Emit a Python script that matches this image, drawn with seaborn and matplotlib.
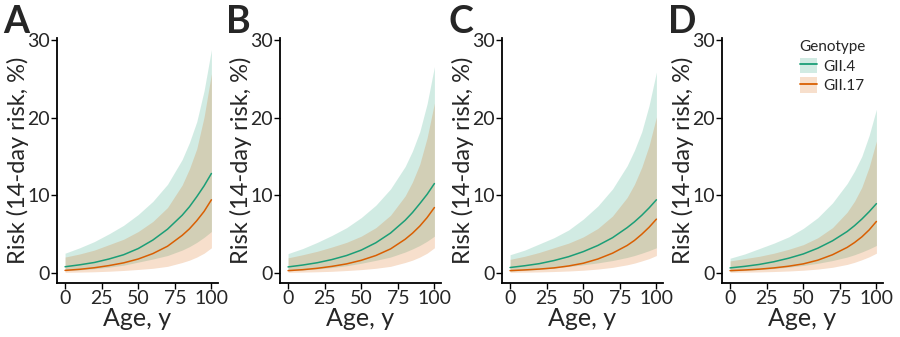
import pandas as pd
import seaborn as sns
import matplotlib.pyplot as plt
from matplotlib.patches import Patch
from matplotlib.lines import Line2D

ages = [0, 10, 20, 30, 40, 50, 60, 70, 80, 85, 90, 95, 100]
panels = ["A", "B", "C", "D"]
genotypes = ["GII.4", "GII.17"]

# panel A
a_gii4_mid = [0.75, 1.0, 1.3, 1.75, 2.3, 3.1, 4.2, 5.6, 7.4, 8.5, 9.8, 11.2, 12.8]
a_gii4_low = [0.22, 0.35, 0.5, 0.7, 0.95, 1.35, 1.75, 2.2, 2.9, 3.35, 3.9, 4.55, 5.3]
a_gii4_high = [2.5, 3.2, 4.0, 5.0, 6.1, 7.5, 9.2, 11.4, 14.6, 16.8, 19.5, 23.5, 28.8]
a_gii17_mid = [0.28, 0.42, 0.62, 0.9, 1.25, 1.75, 2.45, 3.4, 4.8, 5.65, 6.7, 7.9, 9.4]
a_gii17_low = [0.03, 0.06, 0.1, 0.17, 0.27, 0.4, 0.55, 0.8, 1.3, 1.6, 2.0, 2.5, 3.2]
a_gii17_high = [2.0, 2.4, 2.9, 3.6, 4.3, 5.3, 6.6, 8.4, 11.3, 13.4, 16.0, 20.1, 25.7]

# panel B
b_gii4_mid = [0.73, 0.97, 1.27, 1.68, 2.2, 2.9, 3.85, 5.1, 6.75, 7.75, 8.9, 10.1, 11.5]
b_gii4_low = [0.22, 0.33, 0.47, 0.65, 0.88, 1.2, 1.58, 2.0, 2.65, 3.05, 3.5, 4.05, 4.7]
b_gii4_high = [2.45, 3.1, 3.9, 4.8, 5.8, 7.1, 8.7, 10.8, 13.7, 15.7, 18.2, 21.8, 26.6]
b_gii17_mid = [0.25, 0.37, 0.55, 0.8, 1.12, 1.58, 2.2, 3.05, 4.3, 5.08, 6.0, 7.1, 8.4]
b_gii17_low = [0.03, 0.06, 0.1, 0.16, 0.26, 0.38, 0.55, 0.8, 1.3, 1.6, 2.0, 2.5, 3.2]
b_gii17_high = [1.9, 2.3, 2.75, 3.3, 3.9, 4.7, 5.8, 7.4, 9.9, 11.7, 14.0, 17.4, 21.9]

# panel C
c_gii4_mid = [0.65, 0.88, 1.15, 1.55, 2.05, 2.7, 3.5, 4.5, 5.8, 6.55, 7.4, 8.35, 9.4]
c_gii4_low = [0.18, 0.28, 0.4, 0.57, 0.78, 1.0, 1.25, 1.55, 1.95, 2.2, 2.5, 2.83, 3.2]
c_gii4_high = [2.3, 2.9, 3.7, 4.5, 5.5, 6.9, 8.6, 10.8, 13.8, 15.8, 18.2, 21.6, 25.9]
c_gii17_mid = [0.25, 0.34, 0.45, 0.6, 0.85, 1.2, 1.75, 2.5, 3.5, 4.15, 4.95, 5.85, 6.9]
c_gii17_low = [0.03, 0.05, 0.08, 0.13, 0.2, 0.3, 0.45, 0.67, 1.0, 1.22, 1.5, 1.8, 2.2]
c_gii17_high = [1.7, 2.1, 2.6, 3.2, 3.8, 4.6, 5.7, 7.3, 9.7, 11.4, 13.6, 16.4, 20.1]

# panel D
d_gii4_mid = [0.6, 0.8, 1.05, 1.4, 1.85, 2.4, 3.15, 4.1, 5.3, 6.05, 6.9, 7.85, 8.9]
d_gii4_low = [0.18, 0.27, 0.38, 0.52, 0.7, 0.92, 1.2, 1.55, 2.0, 2.3, 2.65, 3.05, 3.5]
d_gii4_high = [1.85, 2.4, 3.1, 3.8, 4.6, 5.7, 7.1, 9.0, 11.5, 13.1, 15.0, 17.7, 21.1]
d_gii17_mid = [0.25, 0.33, 0.44, 0.6, 0.82, 1.12, 1.6, 2.3, 3.25, 3.87, 4.6, 5.5, 6.6]
d_gii17_low = [0.03, 0.05, 0.08, 0.13, 0.2, 0.3, 0.45, 0.68, 1.05, 1.32, 1.65, 2.03, 2.5]
d_gii17_high = [1.5, 1.8, 2.1, 2.5, 3.0, 3.6, 4.5, 5.8, 7.8, 9.2, 11.0, 13.6, 17.0]

series = {
    ("A", "GII.4"): (a_gii4_mid, a_gii4_low, a_gii4_high),
    ("A", "GII.17"): (a_gii17_mid, a_gii17_low, a_gii17_high),
    ("B", "GII.4"): (b_gii4_mid, b_gii4_low, b_gii4_high),
    ("B", "GII.17"): (b_gii17_mid, b_gii17_low, b_gii17_high),
    ("C", "GII.4"): (c_gii4_mid, c_gii4_low, c_gii4_high),
    ("C", "GII.17"): (c_gii17_mid, c_gii17_low, c_gii17_high),
    ("D", "GII.4"): (d_gii4_mid, d_gii4_low, d_gii4_high),
    ("D", "GII.17"): (d_gii17_mid, d_gii17_low, d_gii17_high),
}

rows = []
for (p, g), (mid, low, high) in series.items():
    for i, a in enumerate(ages):
        rows.append({"panel": p, "genotype": g, "age": a,
                     "risk": mid[i], "low": low[i], "high": high[i]})
df = pd.DataFrame(rows)

sns.set_style("white")
plt.rcParams["font.family"] = ["Lato", "DejaVu Sans"]

colors = {"GII.4": "#1b9e77", "GII.17": "#d95f02"}

fig = plt.figure(figsize=(9, 3.37), dpi=100)
lefts = [57, 280, 502, 722]

for p, left in zip(panels, lefts):
    ax = fig.add_axes([left / 900, 54 / 337, 161 / 900, 245 / 337])
    sub = df[df["panel"] == p]
    for g in genotypes:
        s = sub[sub["genotype"] == g]
        ax.fill_between(s["age"], s["low"], s["high"], color=colors[g],
                        alpha=0.2, linewidth=0)
    sns.lineplot(data=sub, x="age", y="risk", hue="genotype",
                 palette=colors, hue_order=genotypes, linewidth=1.1,
                 legend=False, ax=ax)
    ax.set_xlim(-5.5, 104.5)
    ax.set_ylim(-1.35, 30.3)
    ax.set_xticks([0, 25, 50, 75, 100])
    ax.set_yticks([0, 10, 20, 30])
    ax.set_xlabel("Age, y", fontsize=18, labelpad=0)
    ax.set_ylabel("Risk (14-day risk, %)", fontsize=17, labelpad=-1)
    ax.tick_params(axis="both", labelsize=14, length=4, width=1,
                   direction="out", color="black", pad=1, left=True,
                   bottom=True)
    for side in ["top", "right"]:
        ax.spines[side].set_visible(False)
    for side in ["left", "bottom"]:
        ax.spines[side].set_color("black")
        ax.spines[side].set_linewidth(1.3)
    fig.text((left - 54) / 900, 1 - 33 / 337, p, fontsize=27,
             fontweight="bold", va="baseline", ha="left")

    if p == "D":
        handles = [(Patch(facecolor=colors[g], alpha=0.2, linewidth=0),
                    Line2D([], [], color=colors[g], linewidth=1.3))
                   for g in genotypes]
        ax.legend(handles, genotypes, title="Genotype", loc="upper left",
                  bbox_to_anchor=(799 / 900, 1 - 40 / 337),
                  bbox_transform=fig.transFigure, borderaxespad=0,
                  borderpad=0, frameon=False, fontsize=11,
                  title_fontsize=11, handlelength=1.1, handleheight=1.15,
                  labelspacing=0.25, handletextpad=0.4)

fig.savefig("out.png", dpi=100)
